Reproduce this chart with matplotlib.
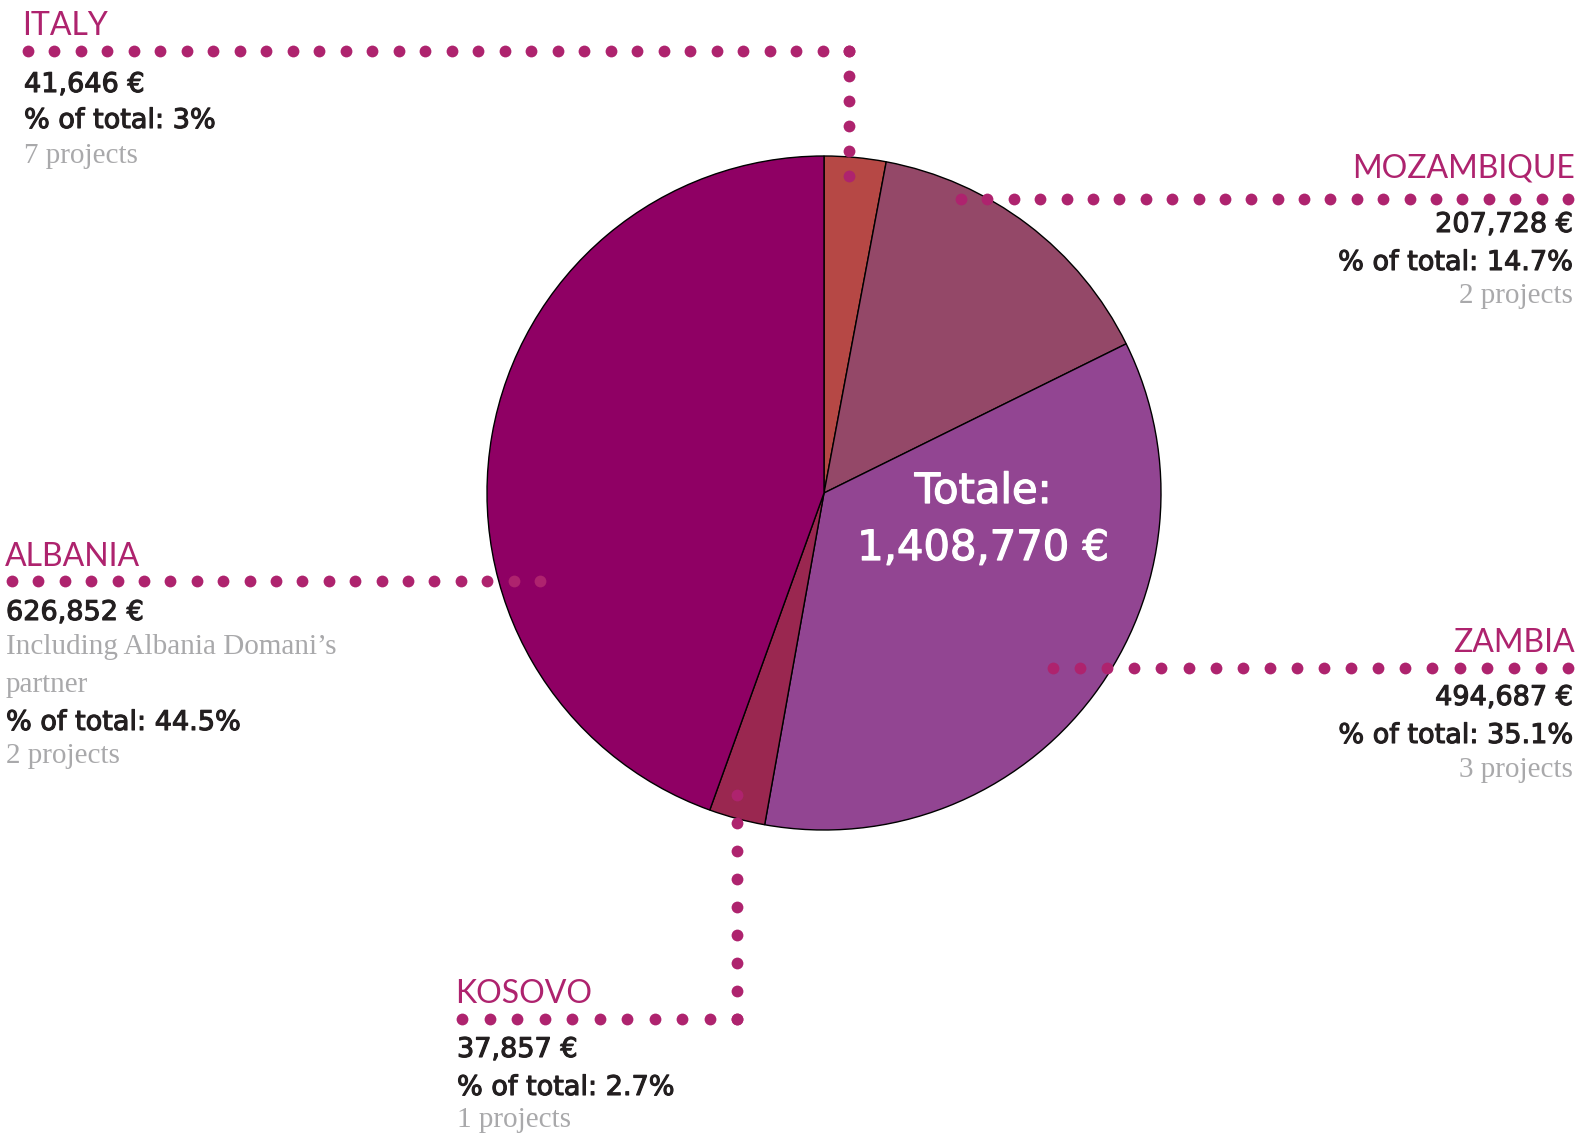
import numpy as np
import matplotlib
matplotlib.use("Agg")
import matplotlib.pyplot as plt
import matplotlib.patheffects as pe

# data
countries = ["ITALY", "MOZAMBIQUE", "ZAMBIA", "KOSOVO", "ALBANIA"]
amounts = [41646, 207728, 494687, 37857, 626852]
shares = ["3", "14.7", "35.1", "2.7", "44.5"]
projects = [7, 2, 3, 1, 2]
notes = {"ALBANIA": "Including Albania Domani\u2019s\npartner"}
total = sum(amounts)

colors = ["#b64845", "#944868", "#924592", "#9a2750", "#8f0064"]
magenta = "#ae236e"
ink = "#231f20"
grey = "#a9a9ab"

W, H = 1593, 1144
fig = plt.figure(figsize=(W / 100, H / 100), dpi=100)
ax = fig.add_axes([0, 0, 1, 1])

# pie, drawn clockwise from 12 o'clock (y axis is flipped below)
cx, cy, R = 824, 493, 337
ax.pie(amounts, colors=colors, startangle=-90, counterclock=True,
       center=(cx, cy), radius=R,
       wedgeprops=dict(edgecolor="black", linewidth=1.0))
ax.set_xlim(0, W)
ax.set_ylim(H, 0)
ax.set_aspect("auto")
ax.axis("off")

thick_w = [pe.withStroke(linewidth=0.9, foreground="white")]
for txt, b in [("Totale:", 503), (f"{total:,} \u20ac", 560)]:
    ax.text(983, b, txt, color="white", fontsize=30, ha="center",
            va="baseline", family="DejaVu Sans", path_effects=thick_w)

# leader lines (dotted) and label blocks
leaders = {
    "ITALY": [(28, 51), (849, 51), (849, 176)],
    "MOZAMBIQUE": [(961, 199), (1568, 199)],
    "ZAMBIA": [(1053, 668), (1568, 668)],
    "KOSOVO": [(462, 1019), (737, 1019), (737, 795)],
    "ALBANIA": [(12, 581), (540, 581)],
}
blocks = {
    # title x, title baseline, text x, alignment, line baselines
    "ITALY": (22, 35, 24, "left", [92, 128, 163]),
    "MOZAMBIQUE": (1575, 178, 1573, "right", [232, 270, 303]),
    "ZAMBIA": (1575, 652, 1573, "right", [705, 743, 777]),
    "KOSOVO": (455, 1003, 457, "left", [1057, 1095, 1127]),
    "ALBANIA": (5, 566, 6, "left", [620, 654, 692, 730, 763]),
}

def dots(path, step=26.7):
    xs, ys = [], []
    for (x0, y0), (x1, y1) in zip(path[:-1], path[1:]):
        n = max(1, int(round(np.hypot(x1 - x0, y1 - y0) / step)))
        xs += list(np.linspace(x0, x1, n + 1))
        ys += list(np.linspace(y0, y1, n + 1))
    ax.plot(xs, ys, "o", color=magenta, markersize=8.5, markeredgewidth=0, zorder=5)

thick_k = [pe.withStroke(linewidth=0.8, foreground=ink)]
for name, amt, sh, pr in zip(countries, amounts, shares, projects):
    dots(leaders[name])
    tx, tb, lx, ha, bl = blocks[name]
    ax.text(tx, tb, name, color=magenta, fontsize=23, ha=ha, va="baseline",
            family="Lato")
    lines = [(f"{amt:,} \u20ac", ink, "sans")]
    if name in notes:
        for part in notes[name].split("\n"):
            lines.append((part, grey, "serif"))
    lines.append((f"% of total: {sh}%", ink, "sans"))
    lines.append((f"{pr} projects", grey, "serif"))
    for (txt, col, kind), b in zip(lines, bl):
        if kind == "sans":
            ax.text(lx, b, txt, color=col, fontsize=19.5, ha=ha, va="baseline",
                    family="DejaVu Sans", path_effects=thick_k)
        else:
            ax.text(lx, b, txt, color=col, fontsize=21, ha=ha, va="baseline",
                    family="Liberation Serif")

fig.savefig("out.png", dpi=100)
